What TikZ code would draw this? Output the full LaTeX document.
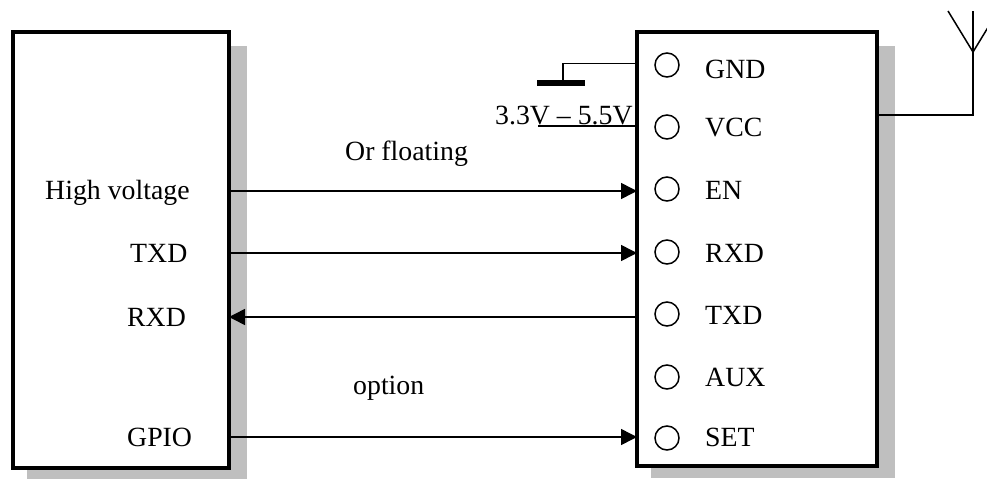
\documentclass[tikz,border=0pt]{standalone}
\usepackage{fontspec}
\setmainfont{Liberation Serif}
\usetikzlibrary{arrows.meta}
\begin{document}
\begin{tikzpicture}[x=1pt,y=-1pt,
  box/.style={draw=black,line width=4pt,fill=white,outer sep=0pt},
  shade/.style={fill=black!25,draw=none},
  wire/.style={draw=black,line width=1.5pt},
  sig/.style={wire,-{Triangle[length=16pt,width=16pt]}},
  pinc/.style={circle,draw=black,line width=1.5pt,minimum size=24pt,inner sep=0pt},
  lbl/.style={font=\fontsize{27.8pt}{30pt}\selectfont,inner sep=0pt,anchor=base west}]
\useasboundingbox (0,0) rectangle (987,479);
% shadows
\fill[shade] (27,46) rectangle (247,479);
\fill[shade] (651,46) rectangle (895,478);
% boxes
\node[box,minimum width=216pt,minimum height=436pt,inner sep=0pt,anchor=north west] (lbox) at (13,32) {};
\node[box,minimum width=240pt,minimum height=434pt,inner sep=0pt,anchor=north west] (rbox) at (637,32) {};
% pins
\foreach \n/\y in {gnd/65,vcc/127,en/189,rxd/252,txd/314,aux/377,set/438}
  \node[pinc] (p\n) at (667,\y) {};
% right labels
\node[lbl] (tgnd) at (705,78) {GND};
\node[lbl] (tvcc) at (705,136) {VCC};
\node[lbl] (ten) at (705,199) {EN};
\node[lbl] (trxd) at (705,262) {RXD};
\node[lbl] (ttxd) at (705,324) {TXD};
\node[lbl] (taux) at (705,386) {AUX};
\node[lbl] (tset) at (705,446) {SET};
% left labels
\node[lbl] (lhv) at (45,199) {High voltage};
\node[lbl] (ltx) at (130,262) {TXD};
\node[lbl] (lrx) at (127,326) {RXD};
\node[lbl] (lgp) at (127,446) {GPIO};
\node[lbl] (tfl) at (345,160) {Or floating};
\node[lbl] (top) at (353,394) {option};
\node[lbl] (tv) at (495,124) {3.3V – 5.5V};
% connector levels
\coordinate (yen) at (0,191);
\coordinate (yrx) at (0,253);
\coordinate (ytx) at (0,317);
\coordinate (yset) at (0,437);
\path[sig] (lbox.east |- yen) -- (rbox.west |- yen);
\path[sig] (lbox.east |- yrx) -- (rbox.west |- yrx);
\path[sig] (rbox.west |- ytx) -- (lbox.east |- ytx);
\path[sig] (lbox.east |- yset) -- (rbox.west |- yset);
% ground
\coordinate (ygnd) at (0,63.5);
\coordinate (gtop) at (563,83);
\draw[wire] (rbox.west |- ygnd) -| (gtop);
\fill (537,80) rectangle (585,86);
% vcc
\coordinate (vccend) at (538,126);
\draw[wire] (rbox.west |- vccend) -- (vccend);
% antenna
\coordinate (afoot) at (973,115);
\coordinate (atip) at (973,11);
\coordinate (afork) at (973,52);
\coordinate (al) at (948,11);
\coordinate (ar) at (998,11);
\draw[wire] (rbox.east |- afoot) -- (afoot) -- (atip);
\draw[wire] (al) -- (afork) -- (ar);
\end{tikzpicture}
\end{document}
